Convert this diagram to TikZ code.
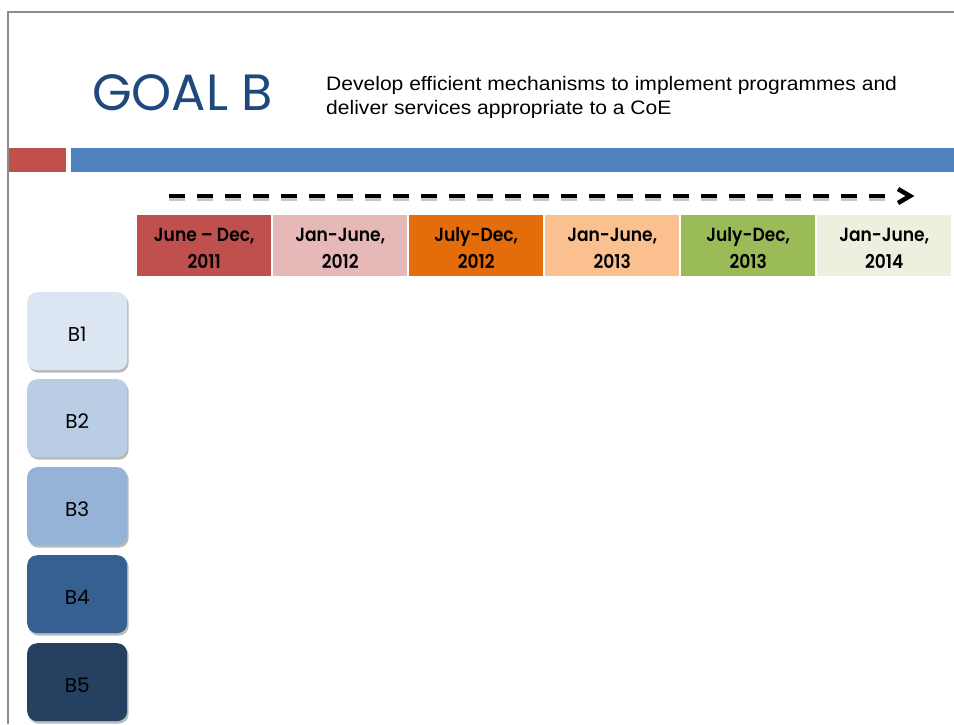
\documentclass[tikz,border=0pt]{standalone}
\usepackage{fontspec}
\setmainfont{Poppins}
\newfontfamily\arialf[FakeStretch=1.08]{Liberation Sans}
\newfontfamily\cellf[FakeStretch=0.9]{Poppins SemiBold}
\usetikzlibrary{shadows,arrows.meta}
\definecolor{goalblue}{HTML}{1F497D}
\definecolor{barred}{HTML}{C0504D}
\definecolor{barblue}{HTML}{4F81BD}
\definecolor{cA}{HTML}{C0504D}
\definecolor{cB}{HTML}{E6B9B8}
\definecolor{cC}{HTML}{E46C0A}
\definecolor{cD}{HTML}{FAC090}
\definecolor{cE}{HTML}{9BBB59}
\definecolor{cF}{HTML}{EBF1DE}
\definecolor{bA}{HTML}{DCE6F2}
\definecolor{bB}{HTML}{B9CDE5}
\definecolor{bC}{HTML}{95B3D7}
\definecolor{bD}{HTML}{376092}
\definecolor{bE}{HTML}{254061}
\tikzset{
  cell/.style={minimum width=134pt, minimum height=61pt, inner sep=0pt, anchor=north west},
  celltext/.style={anchor=base, inner sep=0pt, align=center, text=black,
    font=\cellf\fontsize{19}{27}\selectfont},
  bbox/.style={rounded corners=10pt, minimum width=100pt, minimum height=78pt, inner sep=0pt,
    anchor=north west,
    drop shadow={shadow xshift=1.5pt, shadow yshift=-2.5pt, opacity=0.45, fill=black!60}},
  btext/.style={anchor=base, inner sep=0pt, text=black, font=\fontsize{20}{24}\selectfont},
}
\begin{document}
\begin{tikzpicture}[x=1pt,y=-1pt]
\useasboundingbox (0,0) rectangle (954,724);
% frame
\draw[gray!90, line width=1.5pt] (8,724) -- (8,12) -- (954,12);
% title
\node[anchor=base west, inner sep=0pt, text=goalblue, font=\fontsize{51}{55}\selectfont] (goal) at (92,110) {GOAL B};
\node[anchor=base west, inner sep=0pt, font=\arialf\fontsize{19.5}{24}\selectfont, align=left] (sub) at (326,114)
  {Develop efficient mechanisms to implement programmes and\\deliver services appropriate to a CoE};
% bars
\fill[barred] (9,148) rectangle (66,172);
\fill[barblue] (71,148) rectangle (954,172);
% dashed arrow
\coordinate (as) at (169,196);
\coordinate (ae) at (910,196);
\draw[black!22, line width=4.5pt, dash pattern=on 16pt off 12pt] ([yshift=-3pt]as) -- ([xshift=-14pt,yshift=-3pt]ae);
\draw[black, line width=4.5pt, dash pattern=on 16pt off 12pt] (as) -- ([xshift=-14pt]ae);
\draw[black, line width=4.5pt, line join=miter] ([xshift=-12pt,yshift=-7pt]ae) -- (ae) -- ([xshift=-12pt,yshift=7pt]ae);
% timeline cells
\node[cell, fill=cA] (t1) at (137,215) {};
\node[cell, fill=cB] (t2) at (273,215) {};
\node[cell, fill=cC] (t3) at (409,215) {};
\node[cell, fill=cD] (t4) at (545,215) {};
\node[cell, fill=cE] (t5) at (681,215) {};
\node[cell, fill=cF] (t6) at (817,215) {};
\node[celltext] (l1) at ([yshift=-53pt]t1.north) {June – Dec,\\2011};
\node[celltext] (l2) at ([yshift=-53pt]t2.north) {Jan-June,\\2012};
\node[celltext] (l3) at ([yshift=-53pt]t3.north) {July-Dec,\\2012};
\node[celltext] (l4) at ([yshift=-53pt]t4.north) {Jan-June,\\2013};
\node[celltext] (l5) at ([yshift=-53pt]t5.north) {July-Dec,\\2013};
\node[celltext] (l6) at ([yshift=-53pt]t6.north) {Jan-June,\\2014};
% B boxes
\node[bbox, fill=bA] (b1) at (27,292) {};
\node[bbox, fill=bB] (b2) at (27,379) {};
\node[bbox, fill=bC] (b3) at (27,467) {};
\node[bbox, fill=bD] (b4) at (27,555) {};
\node[bbox, fill=bE] (b5) at (27,643) {};
\foreach \b in {1,...,5} {
  \node[btext] (bl\b) at ([yshift=-10pt]b\b.center) {B\b};
}
\end{tikzpicture}
\end{document}
